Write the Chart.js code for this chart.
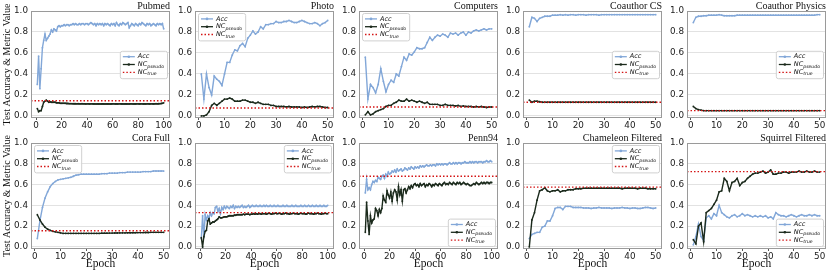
<!DOCTYPE html>
<html>
<head>
<meta charset="utf-8">
<script src="https://cdn.jsdelivr.net/npm/chart.js@4.4.1/dist/chart.umd.min.js"></script>
<style>
    body { margin: 0; background: #fff; width: 830px; height: 271px; position: relative; overflow: hidden; }
    canvas { position: absolute; }
</style>
</head>
<body>
<script>
// ---- data ----
const titles = ['Pubmed', 'Photo', 'Computers', 'Coauthor CS', 'Coauthor Physics',
    'Cora Full', 'Actor', 'Penn94', 'Chameleon Filtered', 'Squirrel Filtered'];
const legendLabels = ['Acc', 'NC_pseudo', 'NC_true'];
const yTicks = [0, 0.2, 0.4, 0.6, 0.8, 1.0];
const xTicks100 = [0, 20, 40, 60, 80, 100];
const xTicks50 = [0, 10, 20, 30, 40, 50];

const pubmedAcc = [0.30,0.57,0.26,0.45,0.65,0.72,0.78,0.72,0.74,0.76, 0.78,0.82,0.80,0.83,0.82,0.81,0.85,0.86,0.85,0.86,
    0.86,0.87,0.86,0.87,0.87,0.86,0.87,0.87,0.88,0.87, 0.88,0.87,0.87,0.88,0.87,0.88,0.88,0.87,0.88,0.88,
    0.87,0.88,0.89,0.88,0.87,0.88,0.86,0.88,0.87,0.88, 0.87,0.88,0.86,0.88,0.87,0.88,0.87,0.86,0.88,0.87,
    0.88,0.86,0.89,0.87,0.86,0.88,0.87,0.89,0.88,0.87, 0.88,0.89,0.84,0.86,0.88,0.87,0.86,0.88,0.87,0.86,
    0.88,0.87,0.89,0.88,0.87,0.86,0.88,0.87,0.88,0.86, 0.87,0.88,0.87,0.86,0.88,0.87,0.88,0.87,0.88,0.83];
const pubmedNc = [0.07,0.04,0.05,0.05,0.09,0.13,0.14,0.15,0.14,0.13, 0.135,0.13,0.13,0.13,0.13,0.125,0.125,0.125,0.12,0.12,
    0.12,0.12,0.12,0.118,0.118,0.117,0.117,0.117,0.116,0.116, 0.116,0.115,0.116,0.115,0.115,0.116,0.115,0.115,0.114,0.115,
    0.115,0.114,0.115,0.115,0.114,0.115,0.114,0.115,0.114,0.115, 0.114,0.115,0.114,0.114,0.115,0.114,0.115,0.114,0.114,0.115,
    0.115,0.114,0.115,0.114,0.115,0.115,0.114,0.115,0.114,0.115, 0.114,0.115,0.114,0.115,0.115,0.114,0.115,0.114,0.115,0.115,
    0.114,0.115,0.115,0.114,0.115,0.114,0.115,0.115,0.114,0.115, 0.115,0.114,0.115,0.116,0.115,0.116,0.117,0.118,0.12,0.125];

const photoAcc = [0.40,0.16,0.40,0.27,0.20,0.38,0.35,0.33,0.29,0.40, 0.51,0.51,0.58,0.63,0.62,0.67,0.69,0.66,0.74,0.77,
    0.81,0.78,0.80,0.85,0.83,0.87,0.87,0.88,0.88,0.90, 0.89,0.89,0.90,0.90,0.91,0.90,0.89,0.89,0.90,0.91,
    0.90,0.89,0.88,0.88,0.89,0.88,0.86,0.88,0.89,0.91];
const photoNc = [0.00,0.00,0.01,0.04,0.10,0.12,0.10,0.12,0.14,0.16, 0.16,0.17,0.16,0.14,0.14,0.14,0.15,0.15,0.14,0.13,
    0.13,0.12,0.13,0.12,0.11,0.11,0.11,0.10,0.10,0.09, 0.09,0.09,0.09,0.085,0.09,0.085,0.085,0.085,0.085,0.08,
    0.085,0.08,0.085,0.09,0.085,0.09,0.09,0.085,0.08,0.08];

const computersAcc = [0.56,0.16,0.30,0.27,0.22,0.30,0.45,0.33,0.23,0.30, 0.34,0.32,0.40,0.38,0.47,0.56,0.53,0.59,0.58,0.61,
    0.65,0.64,0.64,0.65,0.70,0.75,0.72,0.75,0.77,0.76, 0.78,0.77,0.75,0.79,0.78,0.79,0.77,0.79,0.80,0.77,
    0.80,0.79,0.81,0.82,0.81,0.82,0.83,0.82,0.83,0.83];
const computersNc = [0.01,0.04,0.01,0.02,0.04,0.05,0.06,0.07,0.09,0.10, 0.10,0.12,0.13,0.15,0.14,0.14,0.16,0.14,0.15,0.14,
    0.13,0.14,0.13,0.12,0.13,0.11,0.11,0.11,0.11,0.10, 0.10,0.11,0.10,0.10,0.10,0.095,0.10,0.09,0.095,0.09,
    0.09,0.09,0.085,0.09,0.085,0.09,0.085,0.08,0.085,0.085];

const csAcc = [0.85,0.94,0.93,0.90,0.93,0.94,0.95,0.95,0.95,0.96, 0.96,0.96,0.965,0.96,0.965,0.96,0.965,0.965,0.96,0.965,
    0.965,0.965,0.96,0.965,0.965,0.965,0.965,0.96,0.965,0.965, 0.965,0.965,0.965,0.965,0.965,0.965,0.965,0.965,0.965,0.965,
    0.965,0.965,0.965,0.965,0.965,0.965,0.965,0.965,0.965,0.965];
const csNc = [0.15,0.13,0.14,0.14,0.135,0.13,0.13,0.13,0.13,0.13, 0.13,0.13,0.13,0.13,0.13,0.13,0.13,0.13,0.13,0.13,
    0.13,0.13,0.13,0.13,0.13,0.13,0.13,0.13,0.13,0.13, 0.13,0.13,0.13,0.13,0.13,0.13,0.13,0.13,0.13,0.13,
    0.13,0.13,0.13,0.13,0.13,0.13,0.13,0.13,0.13,0.13];

const physicsAcc = [0.89,0.94,0.95,0.95,0.955,0.955,0.96,0.96,0.96,0.96, 0.965,0.96,0.955,0.955,0.955,0.955,0.955,0.96,0.96,0.96,
    0.96,0.96,0.96,0.96,0.96,0.96,0.96,0.96,0.96,0.96, 0.96,0.96,0.96,0.96,0.96,0.96,0.96,0.96,0.96,0.96,
    0.96,0.96,0.96,0.96,0.96,0.96,0.96,0.96,0.965,0.965];
const physicsNc = [0.09,0.07,0.06,0.055,0.05,0.05,0.05,0.05,0.05,0.05, 0.05,0.05,0.05,0.05,0.05,0.05,0.05,0.05,0.05,0.05,
    0.05,0.05,0.05,0.05,0.05,0.05,0.05,0.05,0.05,0.05, 0.05,0.05,0.05,0.05,0.05,0.05,0.05,0.05,0.05,0.05,
    0.05,0.05,0.05,0.05,0.05,0.05,0.05,0.05,0.05,0.05];

const coraAcc = [0.08,0.25,0.38,0.47,0.53,0.58,0.61,0.63,0.645,0.65, 0.655,0.66,0.665,0.67,0.68,0.69,0.695,0.70,0.70,0.70,
    0.70,0.70,0.70,0.70,0.70,0.705,0.705,0.705,0.71,0.71, 0.71,0.71,0.715,0.715,0.715,0.72,0.72,0.72,0.72,0.72,
    0.72,0.725,0.725,0.725,0.725,0.73,0.73,0.73,0.73,0.73];
const coraNc = [0.31,0.26,0.22,0.19,0.17,0.16,0.15,0.145,0.14,0.135, 0.13,0.13,0.13,0.13,0.13,0.13,0.13,0.13,0.13,0.13,
    0.13,0.13,0.13,0.13,0.13,0.132,0.132,0.132,0.133,0.133, 0.134,0.134,0.135,0.135,0.135,0.136,0.136,0.137,0.137,0.138,
    0.138,0.138,0.139,0.139,0.14,0.14,0.14,0.14,0.14,0.14];

const actorAcc = [0.08,0.30,0.09,0.31,0.26,0.30,0.27,0.33,0.30,0.33, 0.32,0.38,0.39,0.34,0.37,0.32,0.38,0.36,0.39,0.37,
    0.39,0.38,0.37,0.39,0.38,0.40,0.37,0.39,0.38,0.39, 0.38,0.39,0.40,0.38,0.39,0.38,0.39,0.40,0.38,0.39,
    0.40,0.39,0.39,0.40,0.39,0.39,0.40,0.39,0.39,0.40, 0.39,0.40,0.39,0.39,0.40,0.39,0.39,0.40,0.39,0.39,
    0.40,0.39,0.39,0.39,0.40,0.39,0.39,0.40,0.39,0.39, 0.39,0.40,0.39,0.39,0.40,0.39,0.39,0.39,0.40,0.39,
    0.39,0.40,0.39,0.39,0.40,0.39,0.39,0.40,0.39,0.39, 0.40,0.39,0.39,0.40,0.39,0.39,0.40,0.39,0.39,0.40];
const actorNc = [0.09,0.00,0.10,0.15,0.16,0.25,0.27,0.22,0.23,0.24, 0.24,0.25,0.26,0.27,0.29,0.28,0.28,0.285,0.29,0.29,
    0.29,0.295,0.30,0.30,0.30,0.30,0.305,0.305,0.31,0.31, 0.31,0.31,0.31,0.315,0.31,0.315,0.315,0.315,0.31,0.315,
    0.315,0.32,0.315,0.32,0.315,0.32,0.32,0.315,0.32,0.32, 0.32,0.315,0.32,0.325,0.32,0.315,0.32,0.32,0.325,0.32,
    0.32,0.325,0.32,0.315,0.32,0.32,0.325,0.32,0.32,0.315, 0.32,0.32,0.325,0.32,0.32,0.32,0.315,0.32,0.325,0.32,
    0.32,0.32,0.315,0.32,0.325,0.32,0.32,0.32,0.315,0.32, 0.32,0.325,0.32,0.32,0.315,0.32,0.32,0.325,0.32,0.32];

const pennAcc = [0.52,0.65,0.55,0.57,0.55,0.60,0.63,0.62,0.64,0.63, 0.67,0.66,0.65,0.68,0.69,0.66,0.70,0.68,0.72,0.70,
    0.71,0.73,0.72,0.74,0.72,0.75,0.73,0.74,0.75,0.73, 0.74,0.76,0.75,0.74,0.76,0.75,0.77,0.76,0.75,0.77,
    0.76,0.77,0.76,0.78,0.77,0.78,0.77,0.78,0.79,0.78, 0.78,0.79,0.78,0.79,0.79,0.78,0.80,0.79,0.80,0.79,
    0.80,0.79,0.80,0.80,0.79,0.80,0.81,0.80,0.80,0.81, 0.80,0.81,0.80,0.81,0.81,0.80,0.81,0.81,0.82,0.81,
    0.81,0.81,0.82,0.81,0.82,0.81,0.82,0.82,0.81,0.82, 0.82,0.82,0.81,0.82,0.82,0.83,0.82,0.82,0.83,0.82];
const pennNc = [0.14,0.43,0.25,0.12,0.30,0.23,0.26,0.27,0.37,0.35, 0.30,0.36,0.33,0.37,0.49,0.45,0.43,0.54,0.50,0.47,
    0.53,0.44,0.52,0.55,0.53,0.45,0.58,0.50,0.55,0.44, 0.55,0.56,0.52,0.55,0.58,0.56,0.59,0.57,0.60,0.61,
    0.59,0.60,0.58,0.61,0.59,0.60,0.61,0.58,0.60,0.59, 0.61,0.60,0.58,0.60,0.59,0.61,0.60,0.59,0.61,0.60,
    0.59,0.61,0.62,0.60,0.61,0.60,0.62,0.61,0.60,0.62, 0.61,0.60,0.62,0.61,0.62,0.60,0.61,0.62,0.61,0.60,
    0.61,0.60,0.59,0.59,0.60,0.61,0.60,0.62,0.61,0.60, 0.61,0.62,0.61,0.62,0.61,0.62,0.62,0.61,0.62,0.62];

const chameleonAcc = [0.08,0.12,0.13,0.14,0.14,0.19,0.20,0.25,0.25,0.30, 0.37,0.38,0.38,0.36,0.39,0.39,0.39,0.38,0.38,0.38,
    0.38,0.375,0.375,0.375,0.37,0.375,0.375,0.38,0.375,0.375, 0.375,0.375,0.37,0.375,0.375,0.375,0.38,0.375,0.375,0.37,
    0.375,0.375,0.37,0.37,0.375,0.38,0.38,0.375,0.37,0.375];
const chameleonNc = [0.00,0.26,0.33,0.45,0.54,0.55,0.57,0.54,0.53,0.54, 0.54,0.55,0.53,0.54,0.54,0.55,0.55,0.55,0.56,0.56,
    0.56,0.565,0.565,0.565,0.565,0.565,0.565,0.565,0.565,0.565, 0.565,0.565,0.565,0.565,0.565,0.565,0.56,0.565,0.565,0.565,
    0.565,0.565,0.56,0.565,0.565,0.565,0.56,0.56,0.56,0.56];

const squirrelAcc = [0.02,0.10,0.22,0.10,0.06,0.28,0.30,0.27,0.32,0.30, 0.40,0.33,0.31,0.29,0.28,0.30,0.31,0.29,0.30,0.32,
    0.30,0.31,0.30,0.29,0.30,0.29,0.30,0.29,0.30,0.28, 0.29,0.27,0.33,0.31,0.30,0.30,0.29,0.30,0.31,0.30,
    0.29,0.30,0.31,0.30,0.30,0.31,0.30,0.31,0.30,0.30];
const squirrelNc = [0.07,0.03,0.20,0.23,0.05,0.33,0.35,0.37,0.41,0.45, 0.53,0.54,0.66,0.63,0.54,0.62,0.63,0.66,0.59,0.62,
    0.63,0.66,0.68,0.70,0.71,0.71,0.72,0.73,0.71,0.72, 0.74,0.70,0.70,0.71,0.71,0.72,0.72,0.71,0.72,0.72,
    0.72,0.73,0.72,0.72,0.73,0.72,0.72,0.73,0.72,0.72];

const accSeries = [pubmedAcc, photoAcc, computersAcc, csAcc, physicsAcc, coraAcc, actorAcc, pennAcc, chameleonAcc, squirrelAcc];
const ncSeries = [pubmedNc, photoNc, computersNc, csNc, physicsNc, coraNc, actorNc, pennNc, chameleonNc, squirrelNc];
const ncTrue = [0.145, 0.075, 0.085, 0.13, 0.05, 0.155, 0.33, 0.68, 0.575, 0.725];
const legendLoc = ['center right', 'upper left', 'upper left', 'center right', 'center right',
    'upper left', 'upper right', 'lower right', 'upper right', 'lower right'];

// ---- layout of the 2x5 grid ----
const colLeft = [31, 195, 359, 523, 687];
const plotW = 143;
const rowTop = [11, 143];
const rowBottom = [118, 249];

const accColor = '#82a7d8';
const ncColor = '#1b2a1c';
const trueColor = '#d41515';

// draws frame, panel title and the inset legend
const panelDecor = {
    id: 'panelDecor',
    afterDraw(chart, args, opts) {
        const { ctx, chartArea: a } = chart;
        ctx.save();
        ctx.strokeStyle = '#9a9a9a';
        ctx.lineWidth = 1;
        ctx.strokeRect(a.left + 0.5, a.top + 0.5, a.right - a.left - 1, a.bottom - a.top - 1);

        ctx.fillStyle = '#111';
        ctx.font = '10px "Liberation Serif"';
        ctx.textAlign = 'right';
        ctx.textBaseline = 'alphabetic';
        ctx.fillText(opts.title, a.right, a.top - 2);

        // legend
        const mainFont = 'italic 6.5px "DejaVu Sans"';
        const subFont = 'italic 4.6px "DejaVu Sans"';
        const parts = legendLabels.map(l => l.split('_'));
        let textW = 0;
        parts.forEach(([m, s]) => {
            ctx.font = mainFont;
            let w = ctx.measureText(m).width;
            if (s) { ctx.font = subFont; w += ctx.measureText(s).width; }
            textW = Math.max(textW, w);
        });
        const sample = 12, rowH = 7.8;
        const w = 3 + sample + 3 + textW + 3;
        const h = 3 * rowH + 4;
        let x, y;
        const loc = opts.loc;
        if (loc.includes('left')) x = a.left + 3; else x = a.right - 3 - w;
        if (loc.startsWith('upper')) y = a.top + 2;
        else if (loc.startsWith('lower')) y = a.bottom - 3 - h;
        else y = (a.top + a.bottom) / 2 - h / 2;

        ctx.beginPath();
        ctx.roundRect(x + 0.5, y + 0.5, w, h, 2);
        ctx.fillStyle = 'rgba(255,255,255,0.85)';
        ctx.fill();
        ctx.strokeStyle = '#d0d0d0';
        ctx.stroke();

        chart.data.datasets.forEach((ds, i) => {
            const cy = y + 2 + rowH * i + rowH / 2;
            ctx.beginPath();
            ctx.strokeStyle = ds.borderColor;
            ctx.lineWidth = 1.3;
            ctx.setLineDash(ds.borderDash || []);
            ctx.moveTo(x + 3, cy);
            ctx.lineTo(x + 3 + sample, cy);
            ctx.stroke();
            ctx.setLineDash([]);
            if (ds.pointRadius > 0) {
                ctx.beginPath();
                ctx.fillStyle = ds.borderColor;
                ctx.arc(x + 3 + sample / 2, cy, 1.3, 0, Math.PI * 2);
                ctx.fill();
            }
            const [m, s] = parts[i];
            let tx = x + 3 + sample + 3;
            ctx.fillStyle = '#111';
            ctx.textAlign = 'left';
            ctx.textBaseline = 'middle';
            ctx.font = mainFont;
            ctx.fillText(m, tx, cy);
            if (s) {
                tx += ctx.measureText(m).width;
                ctx.font = subFont;
                ctx.fillText(s, tx, cy + 1.8);
            }
        });
        ctx.restore();
    }
};

titles.forEach((title, i) => {
    const r = Math.floor(i / 5), c = i % 5;
    const acc = accSeries[i], nc = ncSeries[i];
    const n = acc.length;
    const pad = (n - 1) * 0.05;
    const xMin = 1 - pad, xMax = n + pad;
    const xTicks = n === 100 ? xTicks100 : xTicks50;

    const yAxisW = c === 0 ? 31 : 30;
    const xAxisH = r === 0 ? 16 : 22;
    const topPad = 11;
    const left = colLeft[c] - yAxisW;
    const top = rowTop[r] - topPad;
    const width = yAxisW + plotW;
    const height = topPad + (rowBottom[r] - rowTop[r]) + xAxisH;

    const canvas = document.createElement('canvas');
    canvas.width = width;
    canvas.height = height;
    canvas.style.left = left + 'px';
    canvas.style.top = top + 'px';
    canvas.style.width = width + 'px';
    canvas.style.height = height + 'px';
    document.body.appendChild(canvas);

    new Chart(canvas, {
        type: 'line',
        data: {
            datasets: [{
                label: legendLabels[0],
                data: acc.map((v, k) => ({ x: k + 1, y: v })),
                borderColor: accColor,
                backgroundColor: accColor,
                borderWidth: 1.4,
                pointRadius: 0.9,
                pointBorderWidth: 0,
                order: 2
            }, {
                label: legendLabels[1],
                data: nc.map((v, k) => ({ x: k + 1, y: v })),
                borderColor: ncColor,
                backgroundColor: ncColor,
                borderWidth: 1.4,
                pointRadius: 0.9,
                pointBorderWidth: 0,
                order: 1
            }, {
                label: legendLabels[2],
                data: [{ x: xMin, y: ncTrue[i] }, { x: xMax, y: ncTrue[i] }],
                borderColor: trueColor,
                borderWidth: 1.4,
                borderDash: [1.5, 2],
                pointRadius: 0,
                order: 0
            }]
        },
        options: {
            responsive: false,
            animation: false,
            events: [],
            layout: { padding: { top: topPad, left: 0, right: 0, bottom: 0 } },
            scales: {
                x: {
                    type: 'linear',
                    min: xMin,
                    max: xMax,
                    afterBuildTicks: s => { s.ticks = xTicks.map(v => ({ value: v })); },
                    afterFit: s => { s.height = xAxisH; },
                    grid: { drawOnChartArea: false, drawTicks: true, tickLength: 2, color: '#555' },
                    border: { display: false },
                    ticks: { font: { family: 'DejaVu Sans', size: 8.8 }, color: '#222', padding: 0, maxRotation: 0 },
                    title: r === 1
                        ? { display: true, text: 'Epoch', color: '#111', font: { family: 'Liberation Serif', size: 11.5 }, padding: { top: 0, bottom: 0 } }
                        : { display: false }
                },
                y: {
                    min: -0.02,
                    max: 1.0,
                    afterBuildTicks: s => { s.ticks = yTicks.map(v => ({ value: v })); },
                    afterFit: s => { s.width = yAxisW; },
                    grid: { color: '#e2e2e2', drawTicks: false },
                    border: { display: false },
                    ticks: { font: { family: 'DejaVu Sans', size: 8.8 }, color: '#222', padding: 3, callback: v => v.toFixed(1) },
                    title: c === 0
                        ? { display: true, text: 'Test Accuracy & Metric Value', color: '#111', font: { family: 'Liberation Serif', size: 10 }, padding: { top: 1, bottom: 0 } }
                        : { display: false }
                }
            },
            plugins: {
                legend: { display: false },
                tooltip: { enabled: false },
                panelDecor: { title: title, loc: legendLoc[i] }
            }
        },
        plugins: [panelDecor]
    });
});
</script>
</body>
</html>
